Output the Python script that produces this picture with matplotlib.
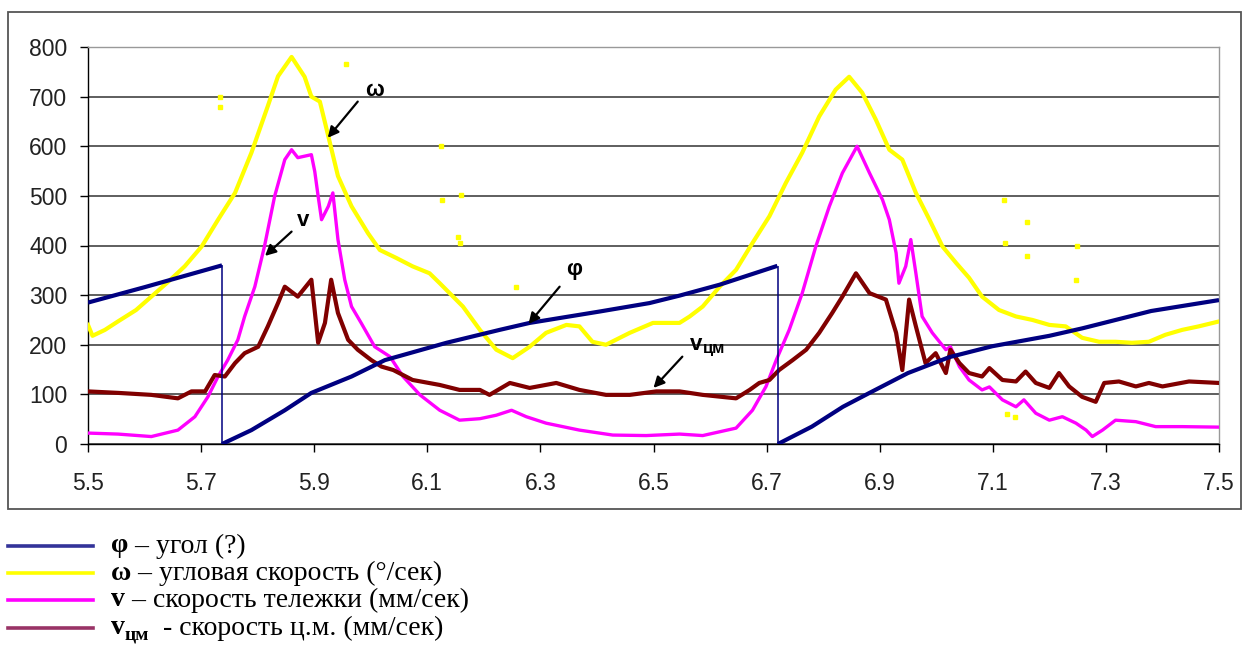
import matplotlib
matplotlib.use("Agg")
import matplotlib.pyplot as plt
from matplotlib.patches import Rectangle
from matplotlib.lines import Line2D

# ---------------- data ----------------
phi_a_x = [5.5, 5.6, 5.737]
phi_a_y = [285, 316, 360]
phi_b_x = [5.737, 5.789, 5.848, 5.895, 5.966, 6.025, 6.134, 6.228, 6.281, 6.405, 6.493, 6.546, 6.617, 6.719]
phi_b_y = [0, 28, 68, 103, 136, 169, 204, 230, 244, 267, 284, 299, 321, 359]
phi_c_x = [6.72, 6.78, 6.835, 6.882, 6.95, 7.023, 7.099, 7.2, 7.258, 7.38, 7.5]
phi_c_y = [0, 35, 75, 103, 143, 175, 197, 218, 233, 268, 290]
phi_drop_x = [5.737, 6.72]
phi_drop_top = [360, 359]

omega_x = [5.5, 5.508, 5.53, 5.553, 5.585, 5.612, 5.64, 5.671, 5.701, 5.730, 5.760, 5.789,
           5.818, 5.836, 5.86, 5.883, 5.895, 5.91, 5.925, 5.942, 5.966, 5.995, 6.016, 6.045,
           6.074, 6.104, 6.122, 6.163, 6.193, 6.222, 6.251, 6.281, 6.310, 6.346, 6.369, 6.392,
           6.416, 6.458, 6.499, 6.546, 6.564, 6.587, 6.617, 6.646, 6.675, 6.705, 6.734, 6.763,
           6.793, 6.822, 6.846, 6.869, 6.893, 6.917, 6.940, 6.964, 6.988, 7.011, 7.035, 7.058,
           7.081, 7.111, 7.141, 7.170, 7.200, 7.229, 7.258, 7.288, 7.317, 7.346, 7.376, 7.405,
           7.435, 7.464, 7.5]
omega_y = [240, 218, 230, 247, 270, 297, 325, 358, 398, 452, 506, 587,
           681, 741, 780, 740, 700, 690, 620, 540, 479, 425, 391, 375,
           358, 344, 324, 277, 230, 190, 173, 196, 224, 240, 237, 206,
           200, 224, 244, 244, 257, 277, 317, 351, 405, 459, 526, 587,
           660, 714, 740, 708, 654, 593, 573, 506, 452, 398, 365, 335,
           297, 270, 257, 250, 240, 237, 214, 206, 206, 204, 206, 220,
           230, 237, 247]
omega_out_x = [5.733, 5.734, 5.956, 6.124, 6.126, 6.159, 6.155, 6.157, 6.257, 7.120, 7.122, 7.161, 7.160, 7.249, 7.247, 7.125, 7.14]
omega_out_y = [700, 680, 765, 600, 492, 501, 418, 405, 317, 492, 405, 448, 378, 398, 331, 60, 55]

v_x = [5.5, 5.553, 5.612, 5.659, 5.689, 5.712, 5.730, 5.747, 5.765, 5.777, 5.795, 5.812,
       5.830, 5.848, 5.860, 5.871, 5.895, 5.901, 5.907, 5.913, 5.925, 5.933, 5.942, 5.954,
       5.966, 5.983, 6.007, 6.034, 6.057, 6.087, 6.122, 6.157, 6.193, 6.222, 6.249, 6.275,
       6.310, 6.369, 6.428, 6.487, 6.546, 6.587, 6.646, 6.675, 6.699, 6.717, 6.740, 6.763,
       6.787, 6.811, 6.834, 6.860, 6.882, 6.905, 6.917, 6.929, 6.934, 6.946, 6.955, 6.964,
       6.975, 6.993, 7.017, 7.025, 7.041, 7.058, 7.081, 7.094, 7.117, 7.141, 7.155, 7.176,
       7.200, 7.223, 7.247, 7.265, 7.276, 7.294, 7.317, 7.353, 7.388, 7.435, 7.5]
v_y = [22, 20, 15, 28, 55, 95, 136, 169, 210, 257, 317, 398,
       499, 573, 593, 577, 583, 549, 499, 452, 479, 506, 412, 331,
       277, 244, 196, 176, 136, 99, 68, 48, 51, 58, 68, 55,
       42, 28, 18, 17, 20, 17, 32, 68, 116, 169, 230, 304,
       398, 479, 546, 600, 546, 492, 452, 385, 324, 358, 412, 344,
       257, 224, 190, 196, 156, 129, 109, 115, 89, 75, 89, 62,
       48, 55, 42, 28, 15, 28, 48, 45, 35, 35, 34]

vcm_x = [5.5, 5.553, 5.612, 5.659, 5.683, 5.707, 5.724, 5.742, 5.760, 5.777, 5.801, 5.818,
         5.836, 5.848, 5.871, 5.895, 5.907, 5.919, 5.930, 5.942, 5.960, 5.977, 6.001, 6.019,
         6.040, 6.074, 6.122, 6.157, 6.193, 6.210, 6.246, 6.281, 6.328, 6.369, 6.416, 6.458,
         6.505, 6.546, 6.587, 6.646, 6.670, 6.687, 6.705, 6.722, 6.746, 6.770, 6.793, 6.816,
         6.834, 6.858, 6.882, 6.911, 6.929, 6.940, 6.952, 6.964, 6.981, 6.999, 7.017, 7.025,
         7.041, 7.058, 7.081, 7.094, 7.117, 7.141, 7.158, 7.176, 7.200, 7.217, 7.235, 7.258,
         7.282, 7.297, 7.323, 7.353, 7.376, 7.400, 7.447, 7.5]
vcm_y = [106, 103, 99, 92, 106, 106, 139, 136, 163, 183, 196, 237,
         284, 317, 297, 331, 204, 244, 331, 264, 210, 190, 169, 156,
         149, 129, 119, 109, 109, 99, 123, 113, 123, 109, 99, 99,
         106, 106, 99, 92, 109, 123, 129, 149, 169, 190, 224, 264,
         297, 344, 304, 291, 224, 149, 291, 237, 163, 183, 143, 190,
         163, 143, 136, 153, 129, 126, 146, 123, 113, 143, 116, 95,
         85, 123, 126, 116, 123, 116, 126, 123]

x_ticks = [5.5, 5.7, 5.9, 6.1, 6.3, 6.5, 6.7, 6.9, 7.1, 7.3, 7.5]
y_ticks = [0, 100, 200, 300, 400, 500, 600, 700, 800]

legend_labels = [("φ", None, " – угол (?)"),
                 ("ω", None, " – угловая скорость (°/сек)"),
                 ("v", None, " – скорость тележки (мм/сек)"),
                 ("v", "цм", "  - скорость ц.м. (мм/сек)")]
legend_colors = ["#333399", "#FFFF00", "#FF00FF", "#993366"]

# ---------------- figure ----------------
W, H = 1242, 671
fig = plt.figure(figsize=(W / 100, H / 100), dpi=100)
fig.patch.set_facecolor("white")

def fx(px):
    return px / W

def fy(py):
    return 1 - py / H

ax = fig.add_axes([fx(88), fy(444), fx(1219) - fx(88), fy(47) - fy(444)])
ax.set_xlim(5.5, 7.5)
ax.set_ylim(0, 800)

ax.set_xticks(x_ticks)
ax.set_xticklabels([f"{t:.1f}" for t in x_ticks])
ax.set_yticks(y_ticks)
ax.set_yticklabels([str(t) for t in y_ticks])
for lab in ax.get_xticklabels() + ax.get_yticklabels():
    lab.set_fontfamily("Liberation Sans")
    lab.set_fontsize(16.5)
    lab.set_color("#222222")
ax.tick_params(axis="x", direction="out", length=6, width=1, pad=14, color="black")
ax.tick_params(axis="y", direction="out", length=6, width=1, pad=9, color="black")

ax.grid(axis="y", color="#333333", lw=1.1)
ax.set_axisbelow(True)
ax.spines["left"].set_color("black")
ax.spines["bottom"].set_color("black")
ax.spines["top"].set_color("#999999")
ax.spines["right"].set_color("#999999")
for s in ax.spines.values():
    s.set_linewidth(1)

# series
ax.plot(omega_x, omega_y, color="#FFFF00", lw=3, solid_joinstyle="round", zorder=3)
ax.plot(omega_out_x, omega_out_y, ls="none", marker="s", ms=2.2, color="#FFFF00", zorder=3)
ax.plot(v_x, v_y, color="#FF00FF", lw=2.4, zorder=4)
ax.plot(vcm_x, vcm_y, color="#800000", lw=3, zorder=5)
ax.plot(phi_a_x, phi_a_y, color="#000080", lw=3, zorder=6, solid_capstyle="butt")
ax.plot(phi_b_x, phi_b_y, color="#000080", lw=3, zorder=6, solid_capstyle="butt")
ax.plot(phi_c_x, phi_c_y, color="#000080", lw=3, zorder=6, solid_capstyle="butt")
ax.vlines(phi_drop_x, 0, phi_drop_top, color="#000080", lw=1.1, zorder=6)

# annotations
arrow = dict(arrowstyle="-|>", color="black", lw=1.6, mutation_scale=16, shrinkA=0, shrinkB=0)
ann_font = dict(family="Liberation Sans", fontsize=16, fontweight="bold", color="black")
ax.annotate("", xy=(5.924, 617), xytext=(5.977, 690), arrowprops=arrow, zorder=7)
ax.text(6.007, 712, "ω", ha="center", va="center", **ann_font)
ax.annotate("", xy=(5.813, 379), xytext=(5.860, 428), arrowprops=arrow, zorder=7)
ax.text(5.880, 450, "v", ha="center", va="center", **ann_font)
ax.annotate("", xy=(6.279, 242), xytext=(6.334, 317), arrowprops=arrow, zorder=7)
ax.text(6.360, 352, "φ", ha="center", va="center", **ann_font)
ax.annotate("", xy=(6.500, 113), xytext=(6.551, 176), arrowprops=arrow, zorder=7)
ax.text(6.575, 200, "v", ha="center", va="center", **ann_font)
ax.text(6.588, 192, "цм", ha="left", va="center", family="Liberation Sans",
        fontsize=12, fontweight="bold", color="black")

# outer chart border
fig.add_artist(Rectangle((fx(8), fy(509)), fx(1241) - fx(8), fy(12) - fy(509),
                         transform=fig.transFigure, fill=False, ec="#555555", lw=1.3))

# legend below chart (lines + text)
fig.canvas.draw()
renderer = fig.canvas.get_renderer()
row_y = [546, 573, 600, 628]
for (sym, sub, rest), col, py in zip(legend_labels, legend_colors, row_y):
    fig.add_artist(Line2D([fx(8), fx(93)], [fy(py), fy(py)], color=col, lw=2.6,
                          transform=fig.transFigure))
    t1 = fig.text(fx(111), fy(py), sym, family="Liberation Serif", fontsize=20,
                  fontweight="bold", va="center", ha="left")
    bb = t1.get_window_extent(renderer)
    xpos = bb.x1
    if sub is not None:
        t2 = fig.text(xpos / W, fy(py + 7), sub, family="Liberation Serif", fontsize=14,
                      fontweight="bold", va="center", ha="left")
        xpos = t2.get_window_extent(renderer).x1
    fig.text(xpos / W, fy(py), rest, family="Liberation Serif", fontsize=20,
             va="center", ha="left")

fig.savefig("out.png", dpi=100, facecolor="white")
